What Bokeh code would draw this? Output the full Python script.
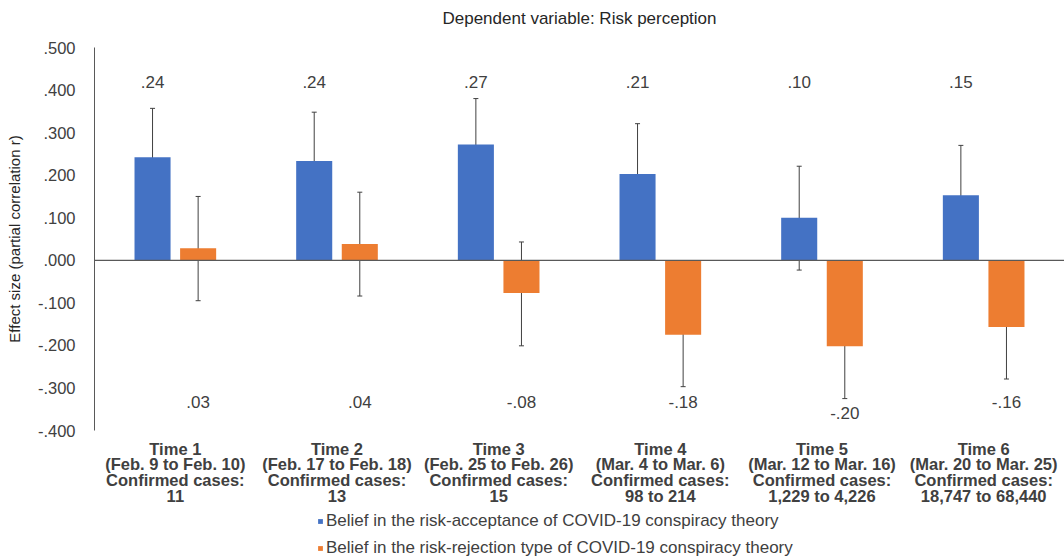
from bokeh.plotting import figure
from bokeh.layouts import column
from bokeh.models import (ColumnDataSource, Whisker, TeeHead, Span, FixedTicker,
                          Legend, LegendItem)
from bokeh.core.properties import value
from bokeh.embed import file_html
from bokeh.resources import INLINE

# ---------------- data ----------------
times = ["Time 1", "Time 2", "Time 3", "Time 4", "Time 5", "Time 6"]
periods = ["(Feb. 9 to Feb. 10)", "(Feb. 17 to Feb. 18)", "(Feb. 25 to Feb. 26)",
           "(Mar. 4 to Mar. 6)", "(Mar. 12 to Mar. 16)", "(Mar. 20 to Mar. 25)"]
cases = ["11", "13", "15", "98 to 214", "1,229 to 4,226", "18,747 to 68,440"]

acceptance = [0.242, 0.233, 0.272, 0.203, 0.100, 0.153]
acceptance_lo = [0.122, 0.117, 0.155, 0.082, -0.023, 0.031]
acceptance_hi = [0.357, 0.348, 0.380, 0.321, 0.221, 0.270]
acceptance_labels = [".24", ".24", ".27", ".21", ".10", ".15"]

rejection = [0.028, 0.038, -0.077, -0.175, -0.202, -0.157]
rejection_lo = [-0.095, -0.084, -0.201, -0.297, -0.325, -0.279]
rejection_hi = [0.150, 0.160, 0.043, -0.052, -0.082, -0.035]
rejection_labels = [".03", ".04", "-.08", "-.18", "-.20", "-.16"]

series_names = ["Belief in the risk-acceptance of COVID-19 conspiracy theory",
                "Belief in the risk-rejection type of COVID-19 conspiracy theory"]
y_ticks = [0.5, 0.4, 0.3, 0.2, 0.1, 0.0, -0.1, -0.2, -0.3, -0.4]
y_tick_labels = [".500", ".400", ".300", ".200", ".100", ".000",
                 "-.100", "-.200", "-.300", "-.400"]
title_text = "Dependent variable: Risk perception"
y_title = "Effect size (partial correlation r)"

# ---------------- style ----------------
FONT = "Liberation Sans"
TEXT = "#404040"
DARK = "#262626"
BLUE = "#4472C4"
ORANGE = "#ED7D31"
AXIS = "#595959"
OFF = 0.141
BAR_W = 0.223
FS = "16.5px"
W = 1064


def strip(height):
    f = figure(width=W, height=height, x_range=(0, 1), y_range=(0, 1),
               output_backend="svg", toolbar_location=None,
               x_axis_location=None, y_axis_location=None,
               min_border_left=0, min_border_right=0, min_border_top=0,
               min_border_bottom=0)
    f.outline_line_color = None
    f.grid.visible = False
    f.background_fill_color = "white"
    f.border_fill_color = "white"
    return f


n = len(times)
centers = [i + 0.5 for i in range(n)]
xa = [c - OFF for c in centers]
xr = [c + OFF for c in centers]
top_label_y = [0.42] * n
bottom_label_y = [min(-0.332, lo - 0.035) for lo in rejection_lo]

src = ColumnDataSource(dict(
    xa=xa, xr=xr,
    acc=acceptance, acc_lo=acceptance_lo, acc_hi=acceptance_hi, acc_lab=acceptance_labels,
    rej=rejection, rej_lo=rejection_lo, rej_hi=rejection_hi, rej_lab=rejection_labels,
    top_y=top_label_y, bot_y=bottom_label_y,
))

# ---------------- title strip ----------------
tt = strip(37)
tt.text(x=[0.5], y=[0.514], text=[title_text], text_font=value(FONT),
        text_font_size="17px", text_align="center", text_baseline="middle",
        text_color=DARK)

# ---------------- main chart ----------------
p = figure(width=W, height=473, x_range=(0, n), y_range=(-0.4, 0.5),
           output_backend="svg", toolbar_location=None,
           min_border_left=94, min_border_right=0, min_border_top=10,
           min_border_bottom=80)
p.outline_line_color = None
p.grid.visible = False
p.background_fill_color = "white"
p.border_fill_color = "white"

# bars
ra = p.vbar(x="xa", top="acc", bottom=0, width=BAR_W, fill_color=BLUE,
            line_color=None, source=src)
rr = p.vbar(x="xr", top="rej", bottom=0, width=BAR_W, fill_color=ORANGE,
            line_color=None, source=src)

# error bars
for base, lo, hi in (("xa", "acc_lo", "acc_hi"), ("xr", "rej_lo", "rej_hi")):
    w = Whisker(source=src, base=base, lower=lo, upper=hi,
                line_color=TEXT, line_width=1,
                upper_head=TeeHead(size=5, line_color=TEXT, line_width=1),
                lower_head=TeeHead(size=5, line_color=TEXT, line_width=1))
    p.add_layout(w)

# zero line
p.add_layout(Span(location=0, dimension="width", line_color=AXIS, line_width=1.2))

# value labels
p.text(x="xa", y="top_y", text="acc_lab", source=src, text_font=value(FONT),
       text_font_size="17px", text_align="center", text_baseline="middle",
       text_color=TEXT)
p.text(x="xr", y="bot_y", text="rej_lab", source=src, text_font=value(FONT),
       text_font_size="17px", text_align="center", text_baseline="middle",
       text_color=TEXT)

# y axis
yax = p.yaxis[0]
yax.ticker = FixedTicker(ticks=y_ticks)
yax.major_label_overrides = dict(zip(y_ticks, y_tick_labels))
yax.major_tick_line_color = None
yax.minor_tick_line_color = None
yax.major_label_standoff = 13
yax.major_label_text_font = FONT
yax.major_label_text_font_size = FS
yax.major_label_text_color = TEXT
yax.axis_line_color = AXIS
yax.axis_label = y_title
yax.axis_label_text_font = FONT
yax.axis_label_text_font_size = "15px"
yax.axis_label_text_font_style = "normal"
yax.axis_label_text_color = DARK
yax.axis_label_standoff = 12

# x axis (category labels)
xax = p.xaxis[0]
xax.ticker = FixedTicker(ticks=centers)
xax.major_label_overrides = {c: f"{t}\n{pr}\nConfirmed cases:\n{cs}"
                             for c, t, pr, cs in zip(centers, times, periods, cases)}
xax.axis_line_color = None
xax.major_tick_line_color = None
xax.minor_tick_line_color = None
xax.major_label_standoff = 3
xax.major_label_text_font = FONT
xax.major_label_text_font_size = FS
xax.major_label_text_font_style = "bold"
xax.major_label_text_color = TEXT
xax.major_label_text_line_height = 0.88

# ---------------- legend strip ----------------
lg = strip(49)
la = lg.vbar(x="xa", top="acc", bottom=0, width=BAR_W, fill_color=BLUE,
             line_color=None, source=src, visible=False)
lr = lg.vbar(x="xr", top="rej", bottom=0, width=BAR_W, fill_color=ORANGE,
             line_color=None, source=src, visible=False)
legend = Legend(items=[LegendItem(label=series_names[0], renderers=[la]),
                       LegendItem(label=series_names[1], renderers=[lr])],
                orientation="vertical", location=(223, 1),
                border_line_color=None, background_fill_alpha=0,
                inactive_fill_alpha=0,
                padding=0, margin=0, glyph_width=6, glyph_height=6,
                label_text_font=FONT, label_text_font_size="17px",
                label_text_color=TEXT, label_height=17, spacing=7,
                label_standoff=3)
lg.add_layout(legend)

layout = column(tt, p, lg, spacing=0)
open("out.html", "w").write(file_html(layout, INLINE))
